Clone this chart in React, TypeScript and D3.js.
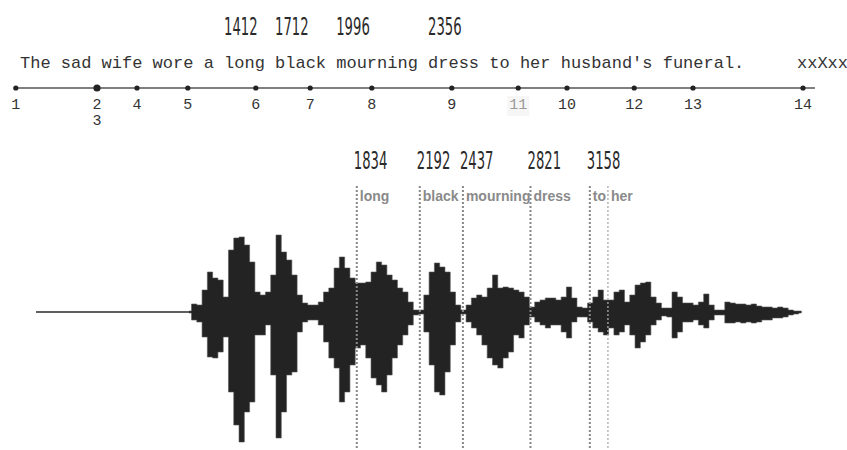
import React, { useEffect, useRef } from 'react';
import * as d3 from 'd3';

// sentence and the words marked above it
const sentence = "The sad wife wore a long black mourning dress to her husband's funeral.";
const trailer = 'xxXxx';
const topWords = ['long', 'black', 'mourning', 'dress'];
const topNumbers = ['1412', '1712', '1996', '2356'];

// timeline dots (position along the line, 0..100)
const dotLabels = ['1', '2', '3', '4', '5', '6', '7', '8', '9', '11', '10', '12', '13', '14'];
const dotPositions = [0.1, 10.25, 10.25, 15.25, 21.6, 30.1, 36.9, 44.6, 54.6, 62.9, 69, 77.4, 84.75, 98.5];

// word boundaries in the recording (ms)
const boundaryMs = [1834, 2192, 2437, 2821, 3158, 3261];
const boundaryLabels = ['1834', '2192', '2437', '2821', '3158', ''];
const boundaryWords = ['long', 'black', 'mourning', 'dress', 'to', 'her'];

// waveform envelope, one value every 30 ms from 880 ms
const waveStart = 880;
const waveStep = 30;
const waveTop = [
  1, 8, 7, 22, 40, 34, 32, 15, 62, 74, 75, 67, 50, 20, 17, 20, 37, 77, 60, 52,
  37, 17, 9, 7, 7, 10, 20, 24, 44, 55, 44, 34, 29, 29, 30, 40, 50, 47, 37, 32,
  24, 20, 10, 2, 2, 17, 40, 49, 45, 40, 20, 7, 2, 7, 14, 17, 15, 24, 37, 24,
  25, 24, 22, 20, 15, 5, 10, 12, 14, 14, 12, 15, 25, 14, 5, 4, 9, 15, 22, 12,
  12, 20, 22, 10, 17, 27, 29, 30, 15, 9, 4, 4, 20, 15, 9, 9, 7, 10, 18, 7,
  2, 2, 10, 9, 8, 8, 7, 8, 6, 5, 5, 4, 5, 4, 2, 1, 1,
];
const waveBottom = [
  1, 8, 10, 25, 45, 46, 40, 25, 80, 113, 130, 100, 90, 23, 23, 13, 63, 126, 100, 63,
  60, 20, 10, 8, 8, 13, 30, 46, 56, 90, 80, 53, 36, 33, 46, 66, 73, 80, 63, 46,
  33, 23, 13, 3, 2, 20, 53, 80, 83, 60, 33, 10, 2, 10, 16, 23, 33, 46, 53, 56,
  46, 40, 23, 26, 13, 5, 10, 13, 16, 13, 13, 20, 26, 10, 5, 5, 10, 16, 20, 23,
  16, 23, 20, 13, 23, 36, 30, 23, 13, 8, 4, 5, 26, 20, 10, 10, 8, 13, 16, 8,
  3, 3, 11, 11, 10, 11, 10, 11, 10, 8, 8, 6, 6, 5, 3, 2, 1,
];

const App = () => {
  const ref = useRef<SVGSVGElement | null>(null);

  useEffect(() => {
    const svg = d3.select(ref.current);
    svg.selectAll('*').remove();

    const mono = '"Liberation Mono", "DejaVu Sans Mono", monospace';
    const sans = '"Liberation Sans", Arial, sans-serif';
    const narrow = '"DejaVu Sans", sans-serif';

    // --- sentence line
    const charW = 17 * 0.6;
    const textX = 20;
    svg.append('text')
      .attr('x', textX).attr('y', 68)
      .style('font-family', mono).style('font-size', '17px').attr('fill', '#333')
      .attr('xml:space', 'preserve')
      .text(sentence);
    svg.append('text')
      .attr('x', 797).attr('y', 68)
      .style('font-family', mono).style('font-size', '17px').attr('fill', '#333')
      .text(trailer);

    // numbers above the words
    topWords.forEach((w, i) => {
      const cx = textX + sentence.indexOf(w) * charW;
      svg.append('text')
        .attr('transform', `translate(${cx},35) scale(0.55,1)`)
        .style('font-family', narrow).style('font-size', '24px').attr('fill', '#2a2a2a')
        .text(topNumbers[i]);
    });

    // --- timeline
    const tx = d3.scaleLinear().domain([0, 100]).range([15, 815]);
    svg.append('line')
      .attr('x1', tx(0)).attr('x2', tx(100)).attr('y1', 88).attr('y2', 88)
      .attr('stroke', '#555').attr('stroke-width', 1.5);

    dotLabels.forEach((lab, i) => {
      const x = tx(dotPositions[i]);
      const dup = i > 0 && dotPositions[i] === dotPositions[i - 1];
      if (!dup) {
        const big = i + 1 < dotPositions.length && dotPositions[i + 1] === dotPositions[i];
        svg.append('circle').attr('cx', x).attr('cy', 88).attr('r', big ? 3.6 : 2.6).attr('fill', '#222');
      }
      if (lab === '11') {
        svg.append('rect').attr('x', x - 11).attr('y', 96).attr('width', 22).attr('height', 20).attr('fill', '#f6f6f6');
      }
      svg.append('text')
        .attr('x', x).attr('y', dup ? 125 : 109)
        .attr('text-anchor', 'middle')
        .style('font-family', mono).style('font-size', '15px')
        .attr('fill', lab === '11' ? '#999' : '#333')
        .text(lab);
    });

    // --- waveform
    const x = d3.scaleLinear().domain([0, 4400]).range([34, 808.4]);
    const y = d3.scaleLinear().domain([-140, 140]).range([452, 172]);

    // silent lead-in
    svg.append('line')
      .attr('x1', x(0) + 2).attr('x2', x(waveStart)).attr('y1', y(0)).attr('y2', y(0))
      .attr('stroke', '#2a2a2a').attr('stroke-width', 1.6);

    const samples = waveTop.map((t, i) => ({ t: waveStart + i * waveStep, top: t, bottom: waveBottom[i] }));
    const area = d3.area<{ t: number; top: number; bottom: number }>()
      .x(d => x(d.t))
      .y0(d => y(-d.bottom))
      .y1(d => y(d.top))
      .curve(d3.curveStep);
    svg.append('path').datum(samples)
      .attr('d', area)
      .attr('fill', '#232323')
      .attr('stroke', '#555').attr('stroke-width', 0.6);

    // --- boundaries
    boundaryMs.forEach((ms, i) => {
      const bx = x(ms);
      const last = i === boundaryMs.length - 1;
      svg.append('line')
        .attr('x1', bx).attr('x2', bx).attr('y1', 186).attr('y2', 450)
        .attr('stroke', last ? '#aaa' : '#888')
        .attr('stroke-width', last ? 1.3 : 2)
        .attr('stroke-dasharray', '2 2');
      if (boundaryLabels[i]) {
        svg.append('text')
          .attr('transform', `translate(${bx - 3},169) scale(0.55,1)`)
          .style('font-family', narrow).style('font-size', '24px').attr('fill', '#2a2a2a')
          .text(boundaryLabels[i]);
      }
      svg.append('text')
        .attr('x', bx + 3).attr('y', 201)
        .style('font-family', sans).style('font-size', '14px').style('font-weight', 'bold')
        .attr('fill', '#8a8a8a')
        .text(boundaryWords[i]);
    });
  }, []);

  return (
    <svg ref={ref} width={847} height={450}
      style={{ position: 'absolute', left: 0, top: 0, background: '#fff' }} />
  );
};

export default App;
